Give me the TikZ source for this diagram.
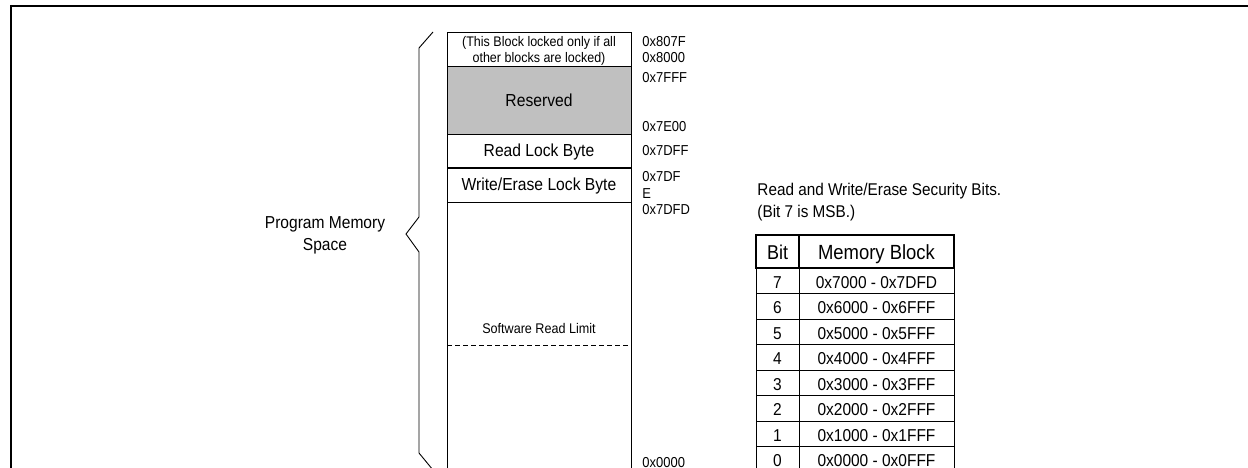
\documentclass[tikz,border=0pt]{standalone}
\usepackage{fontspec}
\setmainfont{Liberation Sans}[FakeStretch=0.9]
\begin{document}
\begin{tikzpicture}[x=1pt,y=-1pt,line width=0.9pt,
  lbl/.style={inner sep=0pt,anchor=base,font=\fontsize{17.4}{20}\selectfont},
  addr/.style={inner sep=0pt,anchor=base west,font=\fontsize{14.4}{16}\selectfont},
  small/.style={inner sep=0pt,anchor=base,font=\fontsize{13.9}{16}\selectfont},
  cell/.style={inner sep=0pt,anchor=base,font=\fontsize{17.2}{19}\selectfont}]
\useasboundingbox (0,0) rectangle (1248,468);
\clip (0,0) rectangle (1248,468);
% frame
\draw[line width=2pt] (11,6) -- (1250,6);
\draw[line width=2pt] (11,5) -- (11,470);
% memory map
\draw (447,32) rectangle (631,66);
\draw[fill={rgb,255:red,192;green,192;blue,192}] (447,66) rectangle (631,134);
\draw (447,134) rectangle (631,167);
\draw (447,168) rectangle (631,202);
\draw (447,202) rectangle (631,480);
\draw[dash pattern=on 5pt off 3pt] (447,345) -- (631,345);
\node[small] (t1) at (539,46.7) {(This Block locked only if all};
\node[small] (t2) at (539,63) {other blocks are locked)};
\node[lbl] (res) at (539,107) {Reserved};
\node[lbl] (rlb) at (539,157) {Read Lock Byte};
\node[lbl] (wlb) at (539,190) {Write/Erase Lock Byte};
\node[small,font=\fontsize{14}{16}\selectfont] (srl) at (539,333) {Software Read Limit};
% addresses
\node[addr] (a1) at (642,46.7) {0x807F};
\node[addr] (a2) at (642,63) {0x8000};
\node[addr] (a3) at (642,83) {0x7FFF};
\node[addr] (a4) at (642,132) {0x7E00};
\node[addr] (a5) at (642,156) {0x7DFF};
\node[addr] (a6) at (642,182) {0x7DF};
\node[addr] (a7) at (642,198) {E};
\node[addr] (a8) at (642,214) {0x7DFD};
\node[addr] (a9) at (642,467) {0x0000};
% brace
\draw (433,32) -- (419,48) -- (419,217) -- (406,234) -- (419,252) -- (419,453) -- (433,470);
\node[lbl,font=\fontsize{17.3}{22}\selectfont] (pm1) at (325,228) {Program Memory};
\node[lbl,font=\fontsize{17.3}{22}\selectfont] (pm2) at (325,250) {Space};
% table title
\node[lbl,anchor=base west,font=\fontsize{17}{21}\selectfont] (tt1) at (757,196) {Read and Write/Erase Security Bits.};
\node[lbl,anchor=base west,font=\fontsize{17}{21}\selectfont] (tt2) at (757,217) {(Bit 7 is MSB.)};
% table
\draw[line width=1.4pt] (756,235) rectangle (954,268);
\draw[line width=1.4pt] (799,235) -- (799,268);
\node[lbl,font=\fontsize{20}{22}\selectfont] (hb) at (777.5,259) {Bit};
\node[lbl,font=\fontsize{20.5}{22}\selectfont] (hm) at (876.5,259) {Memory Block};
\foreach \b/\r [count=\i from 0] in {7/{0x7000 - 0x7DFD},6/{0x6000 - 0x6FFF},5/{0x5000 - 0x5FFF},4/{0x4000 - 0x4FFF},3/{0x3000 - 0x3FFF},2/{0x2000 - 0x2FFF},1/{0x1000 - 0x1FFF},0/{0x0000 - 0x0FFF}}{
  \pgfmathsetmacro{\ya}{268+25.5*\i}
  \pgfmathsetmacro{\yb}{268+25.5*(\i+1)}
  \draw (756,\ya) rectangle (954,\yb);
  \draw (799,\ya) -- (799,\yb);
  \node[cell] (b\i) at (777.5,{\ya+20.3}) {\b};
  \node[cell] (m\i) at (876.5,{\ya+20.3}) {\r};
}
\end{tikzpicture}
\end{document}
